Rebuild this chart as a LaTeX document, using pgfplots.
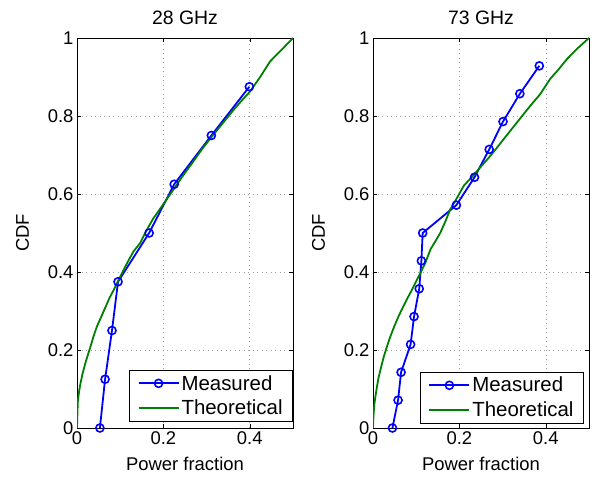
\documentclass[border=0pt]{standalone}
\usepackage{fontspec}
\setmainfont{Liberation Sans}
\usepackage{pgfplots}
\pgfplotsset{compat=1.18}

\definecolor{mblue}{rgb}{0,0,1}
\definecolor{mgreen}{rgb}{0,0.5,0}
\newcommand{\legfont}{\fontsize{20.5}{23}\selectfont}

\pgfplotsset{
  cdfaxis/.style={
    scale only axis,
    width=216bp, height=390bp,
    xmin=0, xmax=0.5, ymin=0, ymax=1,
    xtick={0,0.2,0.4}, ytick={0,0.2,0.4,0.6,0.8,1},
    tick align=inside,
    xtick pos=both, ytick pos=both,
    major tick length=4bp,
    grid=major,
    major grid style={dash pattern=on 1bp off 3.5bp, gray!75, line width=0.6bp},
    axis line style={line width=0.6bp},
    tick style={black, line width=0.5bp},
    /pgf/number format/assume math mode=true,
    ticklabel style={font=\fontsize{18.5}{21}\selectfont},
    label style={font=\fontsize{18.5}{21}\selectfont},
    title style={font=\fontsize{19.5}{22}\selectfont, yshift=4bp},
    xlabel={Power fraction},
    ylabel={CDF},
    xlabel style={yshift=-6bp},
    ylabel style={yshift=12bp},
    legend cell align=left,
    legend style={font=\legfont, nodes={font=\legfont}, draw=black,
      inner xsep=8bp, inner ysep=3bp, row sep=4bp},
    legend image code/.code={%
      \draw[mark repeat=2,mark phase=2,#1] plot coordinates {(0bp,0bp) (20bp,0bp) (40bp,0bp)};},
  },
  meas/.style={mblue, line width=1.8bp, mark=o, mark size=4bp, mark options={line width=1.6bp}},
  theo/.style={mgreen, line width=1.8bp, no marks,
    legend image code/.code={\draw[mgreen, line width=2bp] (0bp,0bp) -- (40bp,0bp);}},
}

\begin{document}
\begin{tikzpicture}
\useasboundingbox (0,0) rectangle (595bp,481bp);

\begin{axis}[cdfaxis, at={(77bp,53bp)}, anchor=south west, title={28 GHz},
  legend style={at={(0.999,0.018)}, anchor=south east}]
\addplot[meas] coordinates {
  (0.053,0) (0.065,0.125) (0.081,0.25) (0.095,0.375)
  (0.167,0.5) (0.225,0.625) (0.311,0.75) (0.399,0.875)
};
\addlegendentry{\legfont Measured}
\addplot[theo] coordinates {
  (0,0) (0.001,0.04) (0.002,0.07) (0.005,0.095) (0.008,0.114) (0.013,0.14)
  (0.019,0.165) (0.025,0.187) (0.031,0.208) (0.038,0.234) (0.046,0.26)
  (0.056,0.285) (0.066,0.31) (0.075,0.333) (0.085,0.354) (0.095,0.377)
  (0.104,0.397) (0.117,0.425) (0.131,0.453) (0.146,0.474) (0.16,0.505)
  (0.177,0.538) (0.2,0.574) (0.223,0.611) (0.246,0.648) (0.269,0.683)
  (0.29,0.716) (0.312,0.747) (0.337,0.781) (0.362,0.815) (0.38,0.838)
  (0.40,0.862) (0.424,0.9) (0.447,0.94) (0.472,0.968) (0.5,1.0)
};
\addlegendentry{\legfont Theoretical}
\end{axis}

\begin{axis}[cdfaxis, at={(373bp,53bp)}, anchor=south west, title={73 GHz},
  legend style={at={(0.975,0.013)}, anchor=south east}]
\addplot[meas] coordinates {
  (0.045,0) (0.058,0.0714) (0.065,0.1429) (0.087,0.2143) (0.095,0.2857)
  (0.107,0.3571) (0.112,0.4286) (0.115,0.5) (0.193,0.5714) (0.235,0.6429)
  (0.269,0.7143) (0.301,0.7857) (0.340,0.8571) (0.385,0.9286)
};
\addlegendentry{\legfont Measured}
\addplot[theo] coordinates {
  (0,0) (0.001,0.03) (0.003,0.06) (0.0055,0.08) (0.009,0.105) (0.013,0.13)
  (0.019,0.157) (0.025,0.183) (0.032,0.208) (0.04,0.234) (0.049,0.26)
  (0.059,0.286) (0.068,0.307) (0.078,0.329) (0.088,0.35) (0.098,0.372)
  (0.11,0.398) (0.121,0.423) (0.133,0.458) (0.145,0.48) (0.156,0.501)
  (0.168,0.531) (0.179,0.561) (0.195,0.591) (0.21,0.621) (0.23,0.645)
  (0.248,0.668) (0.268,0.693) (0.285,0.716) (0.302,0.74) (0.325,0.772)
  (0.348,0.804) (0.367,0.83) (0.387,0.856) (0.41,0.895) (0.43,0.92)
  (0.449,0.946) (0.472,0.972) (0.5,1.0)
};
\addlegendentry{\legfont Theoretical}
\end{axis}
\end{tikzpicture}
\end{document}
